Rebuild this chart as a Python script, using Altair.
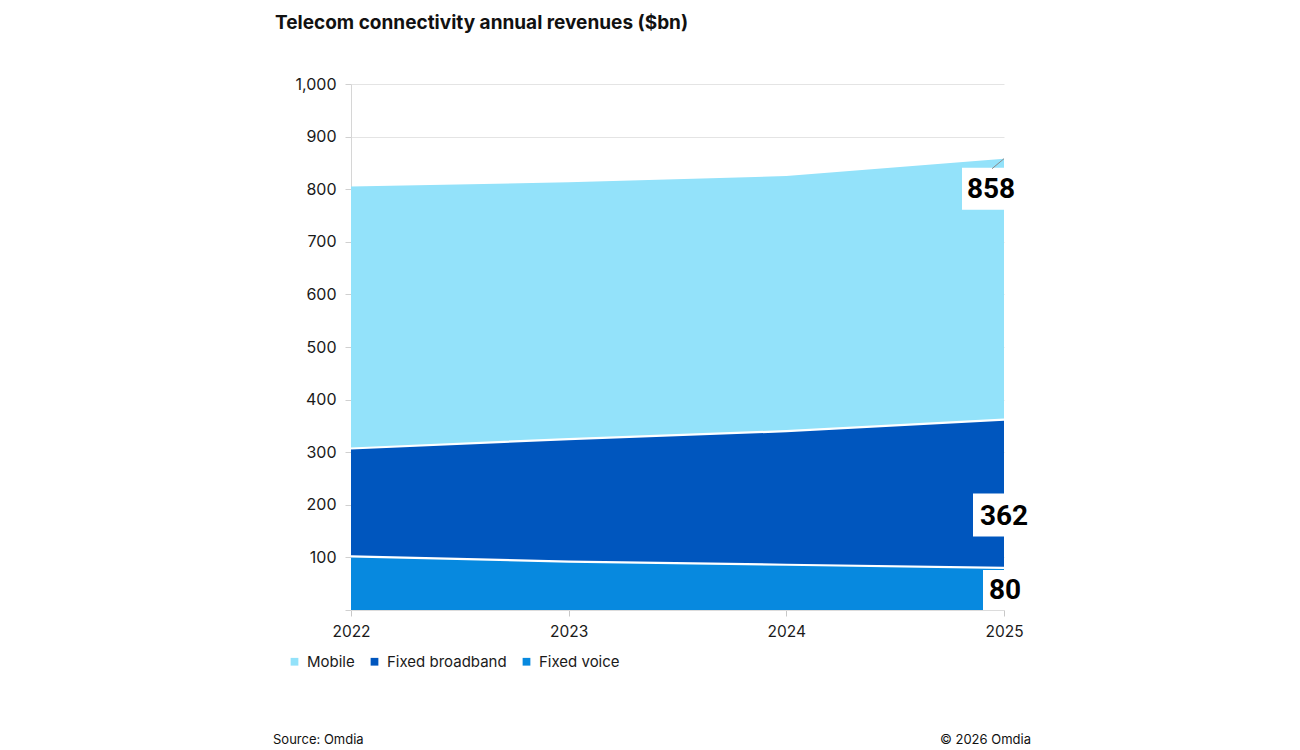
import json
import altair as alt
import pandas as pd

# Annual revenues by segment, $bn
years = [2022, 2023, 2024, 2025]
mobile = [498, 488, 485, 496]
fixed_broadband = [205, 233, 254, 282]
fixed_voice = [102, 92, 86, 80]

series = ["Mobile", "Fixed broadband", "Fixed voice"]
colors = ["#93E2FA", "#0056BE", "#0789DF"]
y_ticks = list(range(0, 1001, 100))

title_text = "Telecom connectivity annual revenues ($bn)"
source_text = "Source: Omdia"
copyright_text = "\u00a9 2026 Omdia"

FONT = "Inter"
NUM_FONT = "Roboto"

rows = []
for name, vals in zip(series, [mobile, fixed_broadband, fixed_voice]):
    for yr, v in zip(years, vals):
        rows.append({"year": yr, "series": name, "value": v})
df = pd.DataFrame(rows)

# stack with fixed voice at the bottom and mobile on top
stacked = (
    alt.Chart(df)
    .transform_calculate(rank=f"indexof({json.dumps(series[::-1])}, datum.series)")
    .transform_stack(
        stack="value",
        groupby=["year"],
        as_=["y0", "y1"],
        sort=[alt.SortField("rank", order="ascending")],
    )
)

x_enc = alt.X(
    "year:Q",
    scale=alt.Scale(domain=[years[0], years[-1]], nice=False, zero=False),
    axis=alt.Axis(
        values=years, format="d", title=None, grid=False, labelFlush=False,
        labelFontSize=15.5, labelColor="#1a1a1a", labelPadding=8, labelFont=FONT,
        tickSize=6, tickColor="#c8c8c8", domainColor="#dcdcdc",
    ),
)
y_scale = alt.Scale(domain=[0, 1000], nice=False)
y_enc = alt.Y(
    "y1:Q",
    scale=y_scale,
    axis=alt.Axis(
        values=y_ticks, title=None,
        labelExpr="datum.value == 0 ? '' : format(datum.value, ',')",
        labelFontSize=16, labelColor="#1a1a1a", labelPadding=9, labelFont=FONT,
        tickSize=6, tickColor="#d0d0d0", domainColor="#d6d6d6",
        grid=True, gridColor="#e4e4e4",
    ),
)

areas = stacked.mark_area(opacity=1).encode(
    x=x_enc,
    y=y_enc,
    y2="y0:Q",
    color=alt.Color(
        "series:N",
        sort=series,
        scale=alt.Scale(domain=series, range=colors),
        legend=alt.Legend(
            title=None, orient="none", direction="horizontal",
            legendX=-64, legendY=570,
            symbolType="square", symbolSize=60, symbolStrokeWidth=0,
            labelFontSize=15, labelColor="#1a1a1a", labelFont=FONT,
            columnPadding=12, labelOffset=5,
        ),
    ),
)

# white boundary lines between the stacked segments
boundaries = (
    stacked.transform_filter(alt.FieldOneOfPredicate(field="series", oneOf=series[1:]))
    .mark_line(color="white", strokeWidth=2.2)
    .encode(x="year:Q", y=alt.Y("y1:Q", scale=y_scale), detail="series:N")
)

last = stacked.transform_filter(alt.datum.year == years[-1])

# (series, box offsets x0, x1, y0, y1, text dx, dy)
label_styles = [
    ("Mobile", -42, 14, 9, 51, -13, 31),
    ("Fixed broadband", -31, 30, 74, 117, 0, 97),
    ("Fixed voice", -21, 24, 2, 42, 1, 23),
]

label_layers = []
for name, bx0, bx1, by0, by1, tdx, tdy in label_styles:
    sel = last.transform_filter(alt.datum.series == name)
    box = sel.mark_rect(
        color="white", xOffset=bx0, x2Offset=bx1, yOffset=by0, y2Offset=by1
    ).encode(
        x="year:Q", x2="year:Q",
        y=alt.Y("y1:Q", scale=y_scale), y2="y1:Q",
    )
    txt = sel.mark_text(
        dx=tdx, dy=tdy, fontSize=28, fontWeight="bold", color="#000000",
        font=NUM_FONT, align="center", baseline="middle",
    ).encode(
        x="year:Q",
        y=alt.Y("y1:Q", scale=y_scale),
        text=alt.Text("y1:Q", format="d"),
    )
    label_layers += [box, txt]

# small leader tick at the top-right of the mobile area
leader = (
    last.transform_filter(alt.datum.series == "Mobile")
    .mark_rule(color="#8a8a8a", strokeWidth=1, x2Offset=-12, y2Offset=10)
    .encode(x="year:Q", x2="year:Q", y=alt.Y("y1:Q", scale=y_scale), y2="y1:Q")
)

title = alt.Chart(pd.DataFrame({"t": [title_text]})).mark_text(
    align="left", baseline="middle", fontSize=19, fontWeight="bold",
    color="#111111", font=FONT,
).encode(x=alt.value(-76), y=alt.value(-61), text="t:N")

source = alt.Chart(pd.DataFrame({"t": [source_text]})).mark_text(
    align="left", baseline="middle", fontSize=13, color="#111111", font=FONT,
).encode(x=alt.value(-78), y=alt.value(656), text="t:N")

copyright_mark = alt.Chart(pd.DataFrame({"t": [copyright_text]})).mark_text(
    align="right", baseline="middle", fontSize=13, color="#111111", font=FONT,
).encode(x=alt.value(680), y=alt.value(656), text="t:N")

chart = (
    alt.layer(areas, boundaries, *label_layers, leader, title, source, copyright_mark)
    .properties(
        width=653,
        height=526,
        autosize=alt.AutoSizeParams(type="none"),
        padding={"left": 351, "top": 84, "right": 296, "bottom": 140},
        background="white",
    )
    .configure_view(stroke=None)
)

chart.save("out.html", embed_options={"renderer": "svg", "actions": False})
